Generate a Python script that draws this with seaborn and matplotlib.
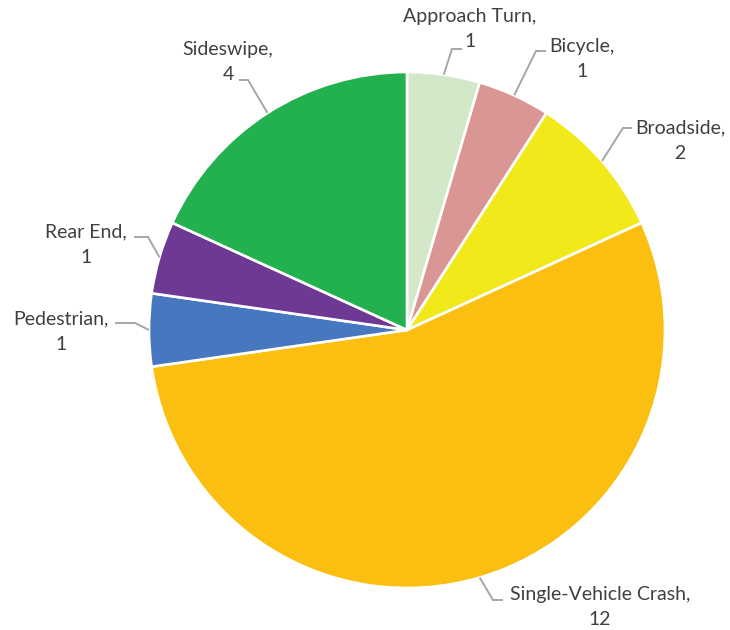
import numpy as np
import matplotlib
matplotlib.use("Agg")
import matplotlib.pyplot as plt
import seaborn as sns

categories = ["Approach Turn", "Bicycle", "Broadside", "Single-Vehicle Crash",
              "Pedestrian", "Rear End", "Sideswipe"]
counts = [1, 1, 2, 12, 1, 1, 4]
colors = ["#d3e7c9", "#da9694", "#f1e91a", "#fbbf12", "#4677bf", "#6e3994", "#22b14e"]

sns.set_theme(style="white")
plt.rcParams["font.family"] = ["Lato", "DejaVu Sans"]

W, H = 730, 630
CX, CY, R = 407, 330, 258


def px(x, y):
    return ((x - CX) / R, (CY - y) / R)


fig = plt.figure(figsize=(W / 100, H / 100), dpi=100)
ax = fig.add_axes([0, 0, 1, 1])
wedges, _ = ax.pie(counts, colors=colors, startangle=90, counterclock=False,
                   radius=1, center=(0, 0),
                   wedgeprops=dict(edgecolor="white", linewidth=1.9))
ax.set_xlim(-CX / R, (W - CX) / R)
ax.set_ylim(-(H - CY) / R, CY / R)
ax.set_aspect("equal")
ax.axis("off")

# layout: (elbow px, end px, text center px)
layout = {
    "Approach Turn": ((452, 49), (462, 49), (470, 29)),
    "Bicycle": ((536, 51), (546, 51), (582, 59)),
    "Broadside": ((623, 128), (632, 128), (680, 141)),
    "Single-Vehicle Crash": ((493, 600), (503, 600), (600, 607)),
    "Pedestrian": ((135, 323), (115, 323), (61, 332)),
    "Rear End": ((148, 237), (134, 237), (86, 245)),
    "Sideswipe": ((248, 80), (239, 80), (228, 62)),
}

for w, cat, n in zip(wedges, categories, counts):
    ang = np.deg2rad((w.theta1 + w.theta2) / 2)
    sx, sy = np.cos(ang), np.sin(ang)
    elbow, end, tc = layout[cat]
    ex, ey = px(*elbow)
    nx, ny = px(*end)
    ax.plot([sx, ex, nx], [sy, ey, ny], color="#a6a6a6", lw=1.4,
            solid_capstyle="butt", solid_joinstyle="miter")
    tx, ty = px(*tc)
    ax.text(tx, ty, f"{cat},\n{n}", ha="center", va="center",
            multialignment="center", fontsize=14, color="#404040",
            linespacing=1.6)

fig.savefig("out.png", dpi=100, facecolor="white")
